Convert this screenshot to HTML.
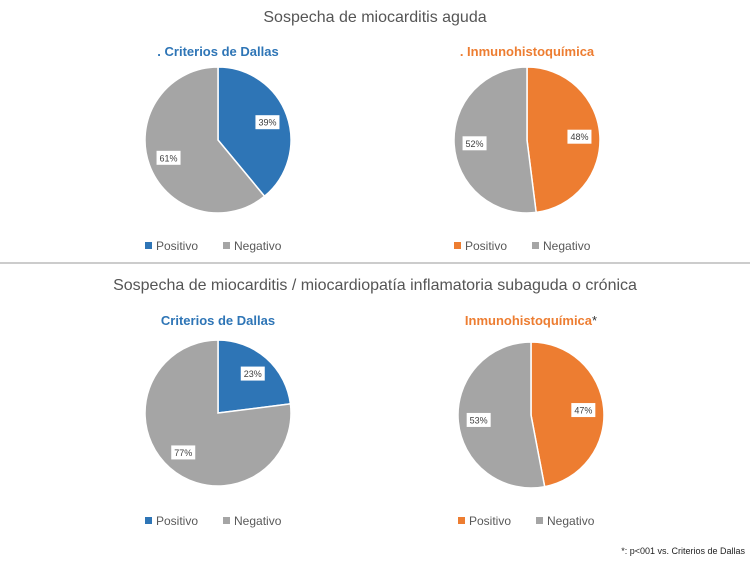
<!DOCTYPE html>
<html><head><meta charset="utf-8"><style>
body{margin:0;background:#fff;font-family:"Liberation Sans",sans-serif;}
svg text{font-family:"Liberation Sans",sans-serif;}
</style></head><body>
<svg id="c" width="750" height="562" xmlns="http://www.w3.org/2000/svg">
<text x="375" y="22" text-anchor="middle" font-size="16" fill="#555">Sospecha de miocarditis aguda</text>
<line x1="0" y1="263" x2="750" y2="263" stroke="#bbb" stroke-width="1.5"/>
<text x="375" y="290" text-anchor="middle" font-size="16" fill="#555">Sospecha de miocarditis / miocardiopatía inflamatoria subaguda o crónica</text>
<text x="745" y="554" text-anchor="end" font-size="9" fill="#222">*: p&lt;001 vs. Criterios de Dallas</text>
</svg>
<script>
const chartTitles=[". Criterios de Dallas",". Inmunohistoquímica","Criterios de Dallas","Inmunohistoquímica"];
const positiveValues=[39,48,23,47];
const negativeValues=[61,52,77,53];
const categories=["Positivo","Negativo"];
const layout=[{cx:218,cy:140,col:"#2e75b6",ty:56,ly:250},{cx:527,cy:140,col:"#ed7d31",ty:56,ly:250},{cx:218,cy:413,col:"#2e75b6",ty:325,ly:525},{cx:531,cy:415,col:"#ed7d31",ty:325,ly:525}];
const svg=document.getElementById('c');const NS="http://www.w3.org/2000/svg";
function mk(t,a){const e=document.createElementNS(NS,t);for(const k in a)e.setAttribute(k,a[k]);svg.appendChild(e);return e;}
const R=73;
function pt(cx,cy,r,frac){const a=frac*2*Math.PI-Math.PI/2;return[cx+r*Math.cos(a),cy+r*Math.sin(a)];}
layout.forEach((L,i)=>{
 const vals=[positiveValues[i],negativeValues[i]];const tot=vals[0]+vals[1];
 const cols=[L.col,"#a5a5a5"];let start=0;
 const t=mk('text',{x:L.cx,y:L.ty,'text-anchor':'middle','font-size':'13','font-weight':'bold',fill:L.col});
 
 
 t.textContent=chartTitles[i];
 if(i==3){const s=document.createElementNS(NS,'tspan');s.setAttribute('fill','#333');s.setAttribute('font-weight','normal');s.textContent='*';t.appendChild(s);}
 vals.forEach((v,j)=>{
  const f0=start/tot,f1=(start+v)/tot;const p0=pt(L.cx,L.cy,R,f0),p1=pt(L.cx,L.cy,R,f1);
  const big=(f1-f0)>0.5?1:0;
  const p=mk('path',{d:`M${L.cx},${L.cy}L${p0[0]},${p0[1]}A${R},${R} 0 ${big} 1 ${p1[0]},${p1[1]}Z`,fill:cols[j],stroke:'#fff','stroke-width':'1.5'});
  
  
  const lp=pt(L.cx,L.cy,R*0.72,(f0+f1)/2);
  const txt=v+'%';
  const bg=mk('rect',{x:lp[0]-12,y:lp[1]-7,width:24,height:14,fill:'#fff'});
  
  
  const lt=mk('text',{x:lp[0],y:lp[1]+3.5,'text-anchor':'middle','font-size':'9',fill:'#404040'});
  
  
  lt.textContent=txt;
  start+=v;
 });
 const lx=L.cx-73;
 categories.forEach((c,j)=>{
  const x=lx+j*78;
  const r=mk('rect',{x:x,y:L.ly-8,width:7,height:7,fill:cols[j]});
  
  
  const tx=mk('text',{x:x+11,y:L.ly,'font-size':'12',fill:'#595959'});
  
  
  tx.textContent=c;
 });
});
</script>
</body></html>
